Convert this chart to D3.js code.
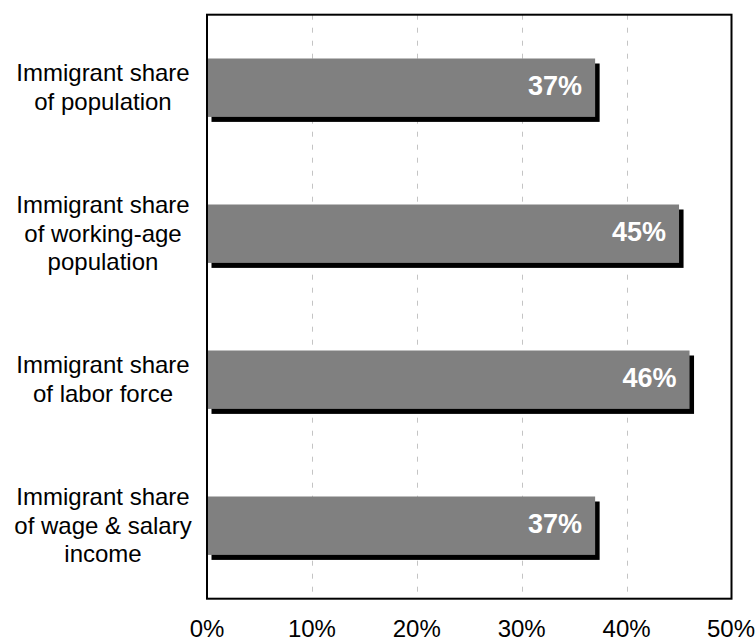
<!DOCTYPE html>
<html>
<head>
<meta charset="utf-8">
<script src="https://cdn.jsdelivr.net/npm/d3@7"></script>
<style>
  html, body { margin: 0; padding: 0; background: #fff; }
  svg { display: block; font-family: "Liberation Sans", Arial, Helvetica, sans-serif; }
</style>
</head>
<body>
<svg id="chart" width="755" height="644"></svg>
<script>
// ---- data ----
const categories = [
  ["Immigrant share", "of population"],
  ["Immigrant share", "of working-age", "population"],
  ["Immigrant share", "of labor force"],
  ["Immigrant share", "of wage & salary", "income"]
];
const values = [37, 45, 46, 37];
const valueLabels = ["37%", "45%", "46%", "37%"];
const tickValues = [0, 10, 20, 30, 40, 50];
const tickLabels = ["0%", "10%", "20%", "30%", "40%", "50%"];

// ---- layout ----
const W = 755, H = 644;
const plot = { left: 207, right: 731.5, top: 14.7, bottom: 598.7 };
const svg = d3.select("#chart");

const x = d3.scaleLinear().domain([0, 50]).range([plot.left, plot.right]);
const y = d3.scaleBand().domain(d3.range(categories.length)).range([plot.top, plot.bottom]).padding(0);
const barH = y.bandwidth() * 0.4;

// gridlines
svg.append("g").selectAll("line")
  .data(tickValues.filter(t => t > 0 && t < 50))
  .join("line")
  .attr("x1", d => Math.round(x(d)) + 0.5).attr("x2", d => Math.round(x(d)) + 0.5)
  .attr("y1", plot.top).attr("y2", plot.bottom)
  .attr("stroke", "#c4c4c4").attr("stroke-width", 1)
  .attr("stroke-dasharray", "5,8");

// bars
const bars = svg.append("g").selectAll("g")
  .data(values)
  .join("g");

bars.append("rect")
  .attr("x", x(0) + 4.5)
  .attr("y", (d, i) => y(i) + (y.bandwidth() - barH) / 2 + 5)
  .attr("width", d => x(d) - x(0))
  .attr("height", barH)
  .attr("fill", "#000");

bars.append("rect")
  .attr("x", x(0))
  .attr("y", (d, i) => y(i) + (y.bandwidth() - barH) / 2)
  .attr("width", d => x(d) - x(0))
  .attr("height", barH)
  .attr("fill", "#808080");

bars.append("text")
  .attr("x", d => x(d) - 13)
  .attr("y", (d, i) => y(i) + y.bandwidth() / 2 + 7)
  .attr("text-anchor", "end")
  .attr("fill", "#fff")
  .attr("font-weight", "bold")
  .attr("font-size", 27)
  .text((d, i) => valueLabels[i]);

// frame
svg.append("rect")
  .attr("x", plot.left).attr("y", plot.top)
  .attr("width", plot.right - plot.left).attr("height", plot.bottom - plot.top)
  .attr("fill", "none").attr("stroke", "#000").attr("stroke-width", 2);

// category labels
const lineH = 28.5;
svg.append("g").selectAll("text")
  .data(categories)
  .join("text")
  .attr("text-anchor", "middle")
  .attr("font-size", 24)
  .attr("fill", "#000")
  .each(function(lines, i) {
    const cy = y(i) + y.bandwidth() / 2;
    const first = cy - (lines.length - 1) * lineH / 2 + 8;
    d3.select(this).selectAll("tspan")
      .data(lines)
      .join("tspan")
      .attr("x", 103)
      .attr("y", (l, j) => first + j * lineH)
      .text(l => l);
  });

// x axis labels
svg.append("g").selectAll("text")
  .data(tickValues)
  .join("text")
  .attr("x", (d, i) => i === tickValues.length - 1 ? Math.min(x(d), W - 24) : x(d))
  .attr("y", 637)
  .attr("text-anchor", "middle")
  .attr("font-size", 24)
  .attr("fill", "#000")
  .text((d, i) => tickLabels[i]);
</script>
</body>
</html>
